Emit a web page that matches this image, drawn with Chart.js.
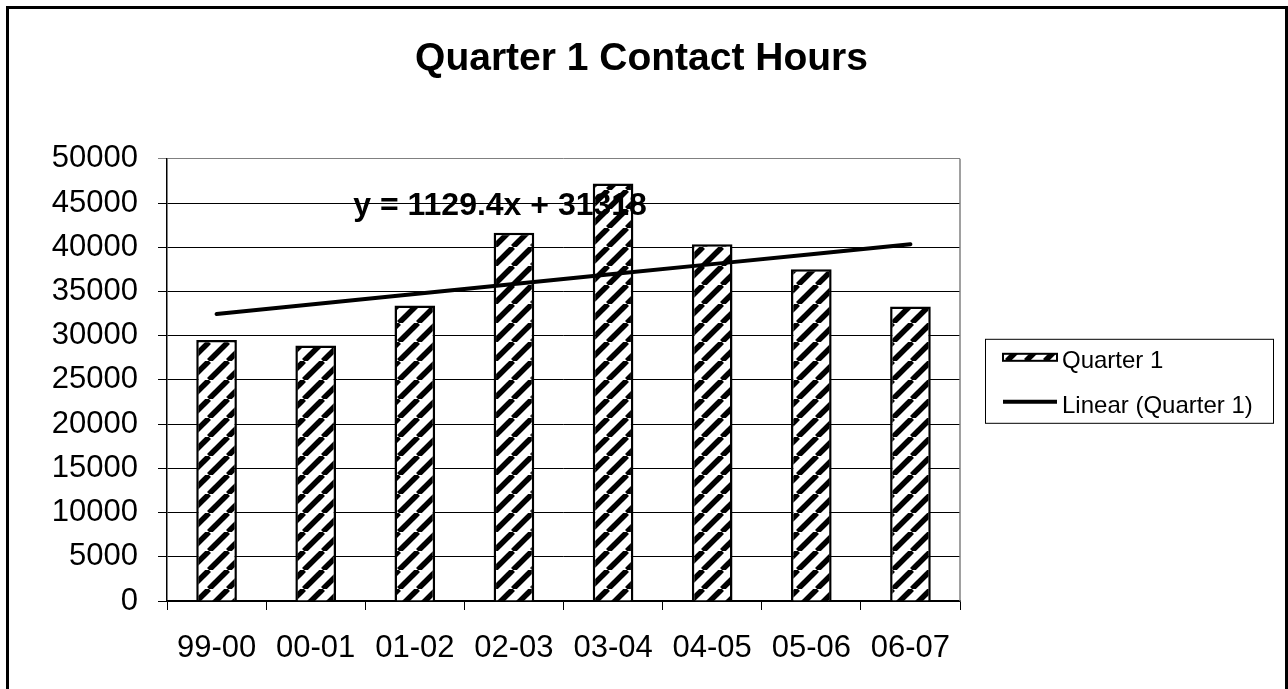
<!DOCTYPE html>
<html>
<head>
<meta charset="utf-8">
<title>Quarter 1 Contact Hours</title>
<script src="https://cdn.jsdelivr.net/npm/chart.js@4.4.0/dist/chart.umd.min.js"></script>
<style>
    html, body { margin: 0; padding: 0; background: #fff; }
    #wrap { width: 1288px; height: 689px; }
</style>
</head>
<body>
<div id="wrap"><canvas id="myChart" width="1288" height="689"></canvas></div>
<script>
// valores
var categorias = ['99-00', '00-01', '01-02', '02-03', '03-04', '04-05', '05-06', '06-07'];
var quarter1 = [29500, 28900, 33400, 41650, 47200, 40350, 37500, 33300];
var tendencia = [32450, 33580, 34710, 35840, 36970, 38090, 39220, 40350];
var ticksY = [0, 5000, 10000, 15000, 20000, 25000, 30000, 35000, 40000, 45000, 50000];
var ecuacion = 'y = 1129.4x + 31318';

var fuente = "Arial, 'Liberation Sans', sans-serif";

// relleno rayado para las barras
function hatchPattern() {
    var size = 19;
    var c = document.createElement('canvas');
    c.width = size;
    c.height = size;
    var g = c.getContext('2d');
    g.fillStyle = '#fff';
    g.fillRect(0, 0, size, size);
    g.strokeStyle = '#000';
    g.lineWidth = 5.5;
    for (var k = -1; k <= 1; k++) {
        g.beginPath();
        g.moveTo(k * size, size);
        g.lineTo(k * size + size, 0);
        g.stroke();
    }
    return g.createPattern(c, 'repeat');
}

// marco exterior y borde derecho del area
var marco = {
    id: 'marco',
    beforeDraw: function (chart) {
        var ctx = chart.ctx;
        ctx.save();
        ctx.fillStyle = '#fff';
        ctx.fillRect(0, 0, chart.width, chart.height);
        ctx.strokeStyle = '#000';
        ctx.lineWidth = 3;
        ctx.strokeRect(7.5, 7.5, chart.width - 9, chart.height + 20);
        ctx.restore();
    },
    beforeDatasetsDraw: function (chart) {
        var a = chart.chartArea;
        var ctx = chart.ctx;
        ctx.save();
        ctx.strokeStyle = '#808080';
        ctx.lineWidth = 1.5;
        ctx.beginPath();
        ctx.moveTo(a.right, a.top);
        ctx.lineTo(a.right, a.bottom);
        ctx.stroke();
        ctx.restore();
    }
};

// ecuacion de la linea de tendencia
var etiqueta = {
    id: 'etiqueta',
    afterDatasetsDraw: function (chart) {
        var xs = chart.scales.x, ys = chart.scales.y;
        var px = xs.getPixelForValue(2) + (xs.getPixelForValue(3) - xs.getPixelForValue(2)) * 0.86;
        var py = ys.getPixelForValue(44600);
        var ctx = chart.ctx;
        ctx.save();
        ctx.fillStyle = '#000';
        ctx.font = 'bold 32px ' + fuente;
        ctx.textAlign = 'center';
        ctx.textBaseline = 'middle';
        ctx.fillText(ecuacion, px, py);
        ctx.restore();
    }
};

// leyenda con recuadro al estilo excel
var leyenda = {
    id: 'leyenda',
    afterDraw: function (chart) {
        var a = chart.chartArea;
        var ctx = chart.ctx;
        var x = a.right + 25, y = a.top + 180, w = 288, h = 84;
        var barras = chart.data.datasets[1];
        var linea = chart.data.datasets[0];
        ctx.save();
        ctx.strokeStyle = '#000';
        ctx.lineWidth = 1;
        ctx.strokeRect(x + 0.5, y + 0.5, w, h);

        ctx.fillStyle = barras.backgroundColor;
        ctx.fillRect(x + 18, y + 15, 54, 7);
        ctx.lineWidth = 2;
        ctx.strokeRect(x + 18, y + 15, 54, 7);

        ctx.lineWidth = 4;
        ctx.beginPath();
        ctx.moveTo(x + 18, y + 63);
        ctx.lineTo(x + 72, y + 63);
        ctx.stroke();

        ctx.fillStyle = '#000';
        ctx.font = '24px ' + fuente;
        ctx.textAlign = 'left';
        ctx.textBaseline = 'middle';
        ctx.fillText(barras.label, x + 77, y + 23);
        ctx.fillText(linea.label, x + 77, y + 68);
        ctx.restore();
    }
};

var ctx = document.getElementById('myChart');
var myChart = new Chart(ctx, {
    type: 'bar',
    data: {
        labels: categorias,
        datasets: [{
            type: 'line',
            label: 'Linear (Quarter 1)',
            data: tendencia,
            borderColor: '#000',
            borderWidth: 4,
            borderCapStyle: 'round',
            pointRadius: 0,
            fill: false,
            tension: 0,
            order: 0
        },
        {
            label: 'Quarter 1',
            data: quarter1,
            backgroundColor: hatchPattern(),
            borderColor: '#000',
            borderWidth: 2.5,
            barPercentage: 0.41,
            categoryPercentage: 1,
            order: 1
        }]
    },
    options: {
        responsive: false,
        animation: false,
        devicePixelRatio: 1,
        layout: {
            padding: { left: 0, right: 5, top: 0, bottom: 0 }
        },
        scales: {
            x: {
                offset: true,
                grid: {
                    display: true,
                    drawOnChartArea: false,
                    drawTicks: true,
                    tickLength: 9,
                    color: '#000',
                    offset: true
                },
                border: { color: '#000', width: 1.5 },
                ticks: {
                    color: '#000',
                    padding: 20,
                    maxRotation: 0,
                    font: { family: fuente, size: 31 }
                },
                afterFit: function (scale) { scale.height = 88; }
            },
            y: {
                min: 0,
                max: 50000,
                afterBuildTicks: function (scale) {
                    scale.ticks = ticksY.map(function (v) { return { value: v }; });
                },
                grid: {
                    color: function (c) { return c.tick && c.tick.value === 50000 ? '#808080' : '#000'; },
                    lineWidth: 1,
                    tickLength: 9
                },
                border: { color: '#000', width: 1.5 },
                ticks: {
                    color: '#000',
                    padding: 20,
                    font: { family: fuente, size: 31 },
                    callback: function (v) { return String(v); }
                },
                afterFit: function (scale) { scale.width = 167; }
            },
            // espacio reservado para la leyenda
            yLeyenda: {
                position: 'right',
                display: true,
                min: 0,
                max: 50000,
                grid: { display: false },
                border: { display: false },
                ticks: { display: false },
                afterFit: function (scale) { scale.width = 323; }
            }
        },
        plugins: {
            legend: { display: false },
            tooltip: { enabled: false },
            title: {
                display: true,
                text: 'Quarter 1 Contact Hours',
                color: '#000',
                font: { family: fuente, size: 39, weight: 'bold' },
                padding: { top: 36, bottom: 76 }
            }
        }
    },
    plugins: [marco, etiqueta, leyenda]
});
</script>
</body>
</html>
